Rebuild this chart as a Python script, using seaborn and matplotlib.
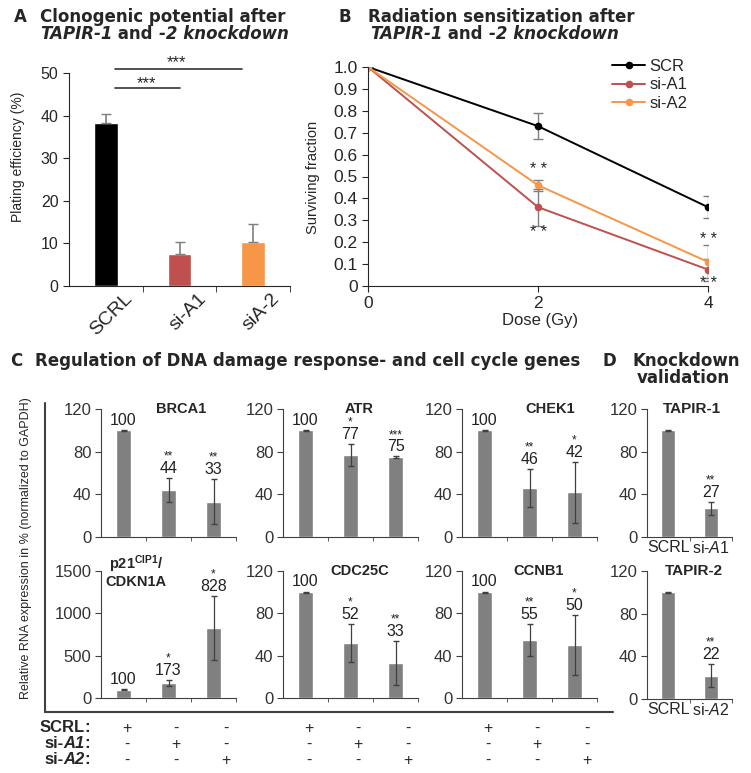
import numpy as np
import matplotlib.pyplot as plt
import matplotlib.transforms as mtransforms
import seaborn as sns

# --- data ---
clono_groups = ["SCRL", "si-A1", "siA-2"]
clono_mean = [38.2, 7.5, 10.3]
clono_err = [2.1, 2.8, 4.2]
clono_colors = ["#000000", "#C0504D", "#F79646"]

dose = [0, 2, 4]
surv_names = ["SCR", "si-A1", "si-A2"]
surv_scr = [1.0, 0.73, 0.36]
surv_scr_err = [0, 0.06, 0.05]
surv_a1 = [1.0, 0.36, 0.075]
surv_a1_err = [0, 0.085, 0.05]
surv_a2 = [1.0, 0.46, 0.11]
surv_a2_err = [0, 0.025, 0.075]

groups = ["SCRL", "si-A1", "si-A2"]
gene_names = ["BRCA1", "ATR", "CHEK1", "p21", "CDC25C", "CCNB1"]
gene_means = [[100, 44, 33], [100, 77, 75], [100, 46, 42],
              [100, 173, 828], [100, 52, 33], [100, 55, 50]]
gene_errs = [[0.5, 11, 21], [0.5, 10, 0.5], [0.5, 17.5, 28.5],
             [5, 37, 380], [0.5, 18, 21], [0.5, 15, 28]]
gene_stars = [["", "**", "**"], ["", "*", "***"], ["", "**", "*"],
              ["", "*", "*"], ["", "*", "**"], ["", "**", "*"]]
gene_ymax = [120, 120, 120, 1500, 120, 120]

kd_names = ["TAPIR-1", "TAPIR-2"]
kd_ticks = [["SCRL", r"si-$\mathit{A1}$"], ["SCRL", r"si-$\mathit{A2}$"]]
kd_means = [[100, 27], [100, 22]]
kd_errs = [[0.5, 6], [0.5, 11]]
kd_stars = [["", "**"], ["", "**"]]

table_rows = ["SCRL", "si-A1", "si-A2"]
table_signs = [["+", "-", "-"], ["-", "+", "-"], ["-", "-", "+"]]

# --- style ---
sns.set_style("ticks")
plt.rcParams['font.family'] = ['Liberation Sans', 'DejaVu Sans']
plt.rcParams['mathtext.fontset'] = 'custom'
plt.rcParams['mathtext.rm'] = 'Liberation Sans'
plt.rcParams['mathtext.it'] = 'Liberation Sans:italic'
plt.rcParams['mathtext.bf'] = 'Liberation Sans:bold'
NARROW = ['Liberation Sans Narrow', 'Liberation Sans']
HEAD = ['DejaVu Sans']
HSIZE = 12
GRAY = "#404040"

W, H = 751, 773
fig = plt.figure(figsize=(W / 100, H / 100), dpi=100)


def px_axes(l, t, r, b):
    return fig.add_axes([l / W, 1 - b / H, (r - l) / W, (b - t) / H])


# overlay axes in pixel coordinates for figure-level text and lines
over = fig.add_axes([0, 0, 1, 1])
over.set_xlim(0, W)
over.set_ylim(H, 0)
over.axis('off')
over.patch.set_visible(False)


def rich_text(x, y, parts, size, family=None):
    fam = dict(family=family) if family else {}
    t = over.text(x, y, parts[0][0], fontsize=size, ha='left', va='baseline', **fam, **parts[0][1])
    for s, st in parts[1:]:
        t = over.annotate(s, xy=(1, 0), xycoords=t, ha='left', va='bottom', fontsize=size,
                          **fam, **st)
    return t


def head(x, y, s):
    over.text(x, y, s, fontsize=HSIZE, weight='bold', va='baseline', family=HEAD)


B = dict(weight='bold')
BI = dict(weight='bold', style='italic')

# ================= A: clonogenic potential =================
axA = px_axes(69, 73, 290, 286)
sns.barplot(x=clono_groups, y=clono_mean, hue=clono_groups, palette=clono_colors,
            width=0.32, saturation=1, legend=False, ax=axA)
axA.errorbar(range(3), clono_mean, yerr=[np.zeros(3), clono_err], fmt='none',
             ecolor='#7f7f7f', elinewidth=1.2, capsize=3.5, zorder=1)
axA.set_xlim(-0.5, 2.5)
axA.set_ylim(0, 50)
axA.set_yticks(range(0, 51, 10))
axA.set_xticks([0.5, 1.5, 2.5], minor=True)
axA.tick_params(axis='x', which='major', length=0, pad=3)
axA.tick_params(axis='x', which='minor', length=4, direction='out')
axA.tick_params(axis='y', length=4, direction='out', labelsize=11.5)
axA.set_xticks(range(3))
axA.set_xticklabels(clono_groups, rotation=45, ha='right', rotation_mode='anchor', fontsize=14)
for lab in axA.get_xticklabels():
    lab.set_transform(lab.get_transform() + mtransforms.ScaledTranslation(18 / 100, 0, fig.dpi_scale_trans))
axA.set_xlabel("")
axA.set_ylabel("")
for s in ["top", "right"]:
    axA.spines[s].set_visible(False)
axA.plot([0.12, 1.0], [46.5, 46.5], color='#333333', lw=1.2, clip_on=False)
axA.plot([0.12, 1.85], [50.9, 50.9], color='#333333', lw=1.2, clip_on=False)
axA.text(0.55, 47.6, "***", ha='center', va='center', fontsize=12)
axA.text(0.96, 52.4, "***", ha='center', va='center', fontsize=12)
over.text(18, 157, "Plating efficiency (%)", rotation=90, ha='center', va='center',
          fontsize=10, family=NARROW)

head(14, 22, "A")
head(40, 22, "Clonogenic potential after")
rich_text(40, 39, [("TAPIR-1", BI), (" and ", B), ("-2 knockdown", BI)], HSIZE, HEAD)

# ================= B: radiation sensitization =================
axB = px_axes(368, 67, 708, 286)
for name, vals, errs, col in zip(surv_names, [surv_scr, surv_a1, surv_a2],
                                 [surv_scr_err, surv_a1_err, surv_a2_err], clono_colors):
    axB.errorbar(dose, vals, yerr=errs, fmt='none', ecolor='#7f7f7f', elinewidth=1,
                 capsize=3.5, zorder=1)
    sns.lineplot(x=dose, y=vals, color=col, marker='o', markersize=5.5, markeredgewidth=0,
                 lw=1.4, label=name, ax=axB, zorder=2)
axB.set_xlim(0, 4)
axB.set_ylim(0, 1.0)
axB.set_xticks(dose)
axB.set_yticks(np.arange(0, 1.01, 0.1))
axB.set_yticklabels(["0"] + [f"{v:.1f}" for v in np.arange(0.1, 1.01, 0.1)])
axB.tick_params(length=4, direction='out', labelsize=12.5)
for s in ["top", "right"]:
    axB.spines[s].set_visible(False)
axB.set_ylabel("")
axB.set_xlabel("")
for xx, yy in [(2, 0.53), (2, 0.245), (4, 0.213), (4, 0.012)]:
    axB.text(xx, yy, "* *", ha='center', va='center', fontsize=11.5, clip_on=False)
axB.legend(loc='upper left', bbox_to_anchor=(612 / W, 1 - 59 / H), bbox_transform=fig.transFigure,
           frameon=False, handlelength=2.0, handletextpad=0.25, labelspacing=0.2,
           borderpad=0, borderaxespad=0, fontsize=12)
over.text(313, 177, "Surviving fraction", rotation=90, ha='center', va='center',
          fontsize=10.5, family=NARROW)
over.text(540, 320, "Dose (Gy)", ha='center', va='center', fontsize=12)

head(339, 22, "B")
head(368, 22, "Radiation sensitization after")
rich_text(370, 39, [("TAPIR-1", BI), (" and ", B), ("-2 knockdown", BI)], HSIZE, HEAD)

# ================= C: gene regulation =================
head(10, 366, "C")
head(35, 366, "Regulation of DNA damage response- and cell cycle genes")
head(602, 366, "D")
head(633, 366, "Knockdown")
head(637, 383, "validation")


def style_small(ax, ymax, ncat):
    ax.set_xlim(-0.5, ncat - 0.5)
    ax.set_ylim(0, ymax)
    ax.set_yticks(np.linspace(0, ymax, 4))
    ax.set_xticks(np.arange(ncat) + 0.5, minor=True)
    ax.tick_params(axis='x', which='minor', length=3, direction='out', color=GRAY)
    ax.tick_params(axis='y', length=4, direction='out', color=GRAY, labelsize=12,
                   labelcolor='#333333', pad=3)
    for s in ["top", "right"]:
        ax.spines[s].set_visible(False)
    for s in ["left", "bottom"]:
        ax.spines[s].set_color(GRAY)
    ax.set_xlabel("")
    ax.set_ylabel("")


def bar_label(ax, i, m, e, st):
    ax.annotate(f"{m}", xy=(i, m + e), xytext=(0, 7), textcoords='offset points',
                ha='center', va='center', fontsize=11.5, color='#222222')
    if st:
        ax.annotate(st, xy=(i, m + e), xytext=(0, 15.5), textcoords='offset points',
                    ha='center', va='center', fontsize=8.5, color='#222222')


c_lefts = [101, 283, 462]
c_rows = [(409, 537), (571, 698)]
c_title_x = [0.59, 0.56, 0.65, 0.26, 0.57, 0.57]
row2_axes = []
for k, name in enumerate(gene_names):
    top, bot = c_rows[k // 3]
    left = c_lefts[k % 3]
    ax = px_axes(left, top, left + 135, bot)
    sns.barplot(x=groups, y=gene_means[k], color='#808080', width=0.33, saturation=1, ax=ax)
    ax.errorbar(range(3), gene_means[k], yerr=gene_errs[k], fmt='none', ecolor=GRAY,
                elinewidth=0.9, capsize=2.5)
    style_small(ax, gene_ymax[k], 3)
    ax.set_xticks(range(3))
    ax.set_xticklabels([])
    ax.tick_params(axis='x', which='major', length=0)
    for i in range(3):
        bar_label(ax, i, gene_means[k][i], gene_errs[k][i], gene_stars[k][i])
    title = name if name != "p21" else r"$\mathbf{p21^{CIP1}/}$" + "\nCDKN1A"
    ax.text(c_title_x[k], 1.0, title, transform=ax.transAxes, ha='center', va='center',
            fontsize=10.5, weight='bold', linespacing=1.0)
    if k >= 3:
        row2_axes.append(ax)

# ================= D: knockdown validation =================
d_rows = [(409, 537), (571, 699)]
d_title_x = [0.53, 0.55]
for k, name in enumerate(kd_names):
    top, bot = d_rows[k]
    ax = px_axes(647, top, 732, bot)
    sns.barplot(x=["SCRL", "si"], y=kd_means[k], color='#808080', width=0.33, saturation=1, ax=ax)
    ax.errorbar(range(2), kd_means[k], yerr=kd_errs[k], fmt='none', ecolor=GRAY,
                elinewidth=0.9, capsize=2.5)
    style_small(ax, 120, 2)
    ax.set_xticks(range(2))
    ax.set_xticklabels(kd_ticks[k], fontsize=11.5)
    ax.tick_params(axis='x', which='major', length=0, pad=2)
    # the SCRL bar carries no value label in panel D
    bar_label(ax, 1, kd_means[k][1], kd_errs[k][1], kd_stars[k][1])
    ax.text(d_title_x[k], 1.0, name, transform=ax.transAxes, ha='center', va='center',
            fontsize=11, weight='bold')

# frame and shared y label of panel C
over.plot([45, 45], [403, 712], color=GRAY, lw=1.5)
over.plot([45, 613], [712, 712], color=GRAY, lw=1.5)
over.text(26, 548, "Relative RNA expression in % (normalized to GAPDH)", rotation=90,
          ha='center', va='center', fontsize=9, family=NARROW)

# +/- table under panel C
row_y = [728, 744, 760]
for r, (lab, y) in enumerate(zip(table_rows, row_y)):
    t = over.text(90, y, ":", ha='right', va='center', fontsize=12, weight='bold')
    if lab.startswith("si-"):
        t = over.annotate(lab[3:], xy=(0, 0), xycoords=t, ha='right', va='bottom',
                          fontsize=12, weight='bold', style='italic')
        over.annotate("si-", xy=(0, 0), xycoords=t, ha='right', va='bottom',
                      fontsize=12, weight='bold')
    else:
        over.annotate(lab, xy=(0, 0), xycoords=t, ha='right', va='bottom',
                      fontsize=12, weight='bold')
    for ax in row2_axes:
        trans = mtransforms.blended_transform_factory(ax.transData, over.transData)
        for c, sign in enumerate(table_signs[r]):
            ax.text(c * 1.1 + 0.07, y, sign, transform=trans, ha='center', va='center',
                    fontsize=11.5, clip_on=False)

fig.savefig("out.png", dpi=100)
